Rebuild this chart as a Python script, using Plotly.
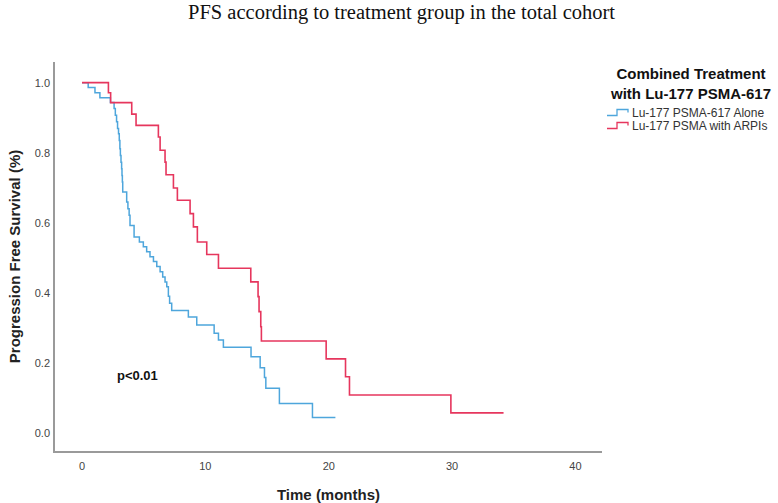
import plotly.graph_objects as go

# ---- data (Kaplan-Meier step curves) ----
blue_name = "Lu-177 PSMA-617 Alone"
blue_time = [0, 0.5, 1.05, 1.45, 2.3, 2.6, 2.7, 2.8, 2.88, 2.96, 3.02, 3.07, 3.11, 3.16, 3.21,
             3.24, 3.27, 3.30, 3.62, 3.72, 3.82, 3.89, 4.22, 4.65, 4.97, 5.24, 5.51, 5.79,
             6.06, 6.33, 6.54, 6.73, 6.87, 7.0, 7.1, 7.27, 8.62, 9.3, 10.71, 11.06, 11.46,
             13.7, 14.44, 14.79, 14.9, 16.0, 18.68, 20.54]
blue_surv = [1.0, 0.986, 0.971, 0.957, 0.943, 0.926, 0.907, 0.888, 0.869, 0.854, 0.835, 0.811,
             0.792, 0.773, 0.754, 0.735, 0.716, 0.688, 0.659, 0.64, 0.621, 0.592, 0.559, 0.545,
             0.531, 0.517, 0.503, 0.489, 0.475, 0.46, 0.445, 0.431, 0.417, 0.39, 0.37, 0.349,
             0.331, 0.308, 0.284, 0.265, 0.244, 0.217, 0.186, 0.158, 0.127, 0.084, 0.044, 0.044]

red_name = "Lu-177 PSMA with ARPIs"
red_time = [0, 2.14, 2.32, 4.03, 4.38, 6.19, 6.33, 6.73, 6.81, 7.41, 7.73, 8.76, 9.03, 9.35,
            10.11, 11.06, 13.68, 14.27, 14.35, 14.49, 14.54, 19.79, 21.36, 21.68, 29.9, 34.17]
red_surv = [1.0, 0.971, 0.943, 0.91, 0.878, 0.845, 0.807, 0.773, 0.737, 0.699, 0.664, 0.626,
            0.588, 0.545, 0.509, 0.470, 0.431, 0.389, 0.346, 0.303, 0.262, 0.211, 0.16, 0.108,
            0.057, 0.057]

x_ticks = [0, 10, 20, 30, 40]
y_ticks = [0.0, 0.2, 0.4, 0.6, 0.8, 1.0]
y_ticktext = ["0.0", "0.2", "0.4", "0.6", "0.8", "1.0"]

title_text = "PFS according to treatment group in the total cohort"
legend_title = "Combined Treatment<br>with Lu-177 PSMA-617"
p_text = "p<0.01"

BLUE = "#4ea6dc"
RED = "#e6365d"

W, H = 778, 503
ML, MR, MT, MB = 55, 176, 62, 52
PW, PH = W - ML - MR, H - MT - MB


def px(x):
    return (x - ML) / PW


def py(y):
    return (H - MB - y) / PH


fig = go.Figure()
fig.add_trace(go.Scatter(x=blue_time, y=blue_surv, mode="lines", line_shape="hv",
                         line=dict(color=BLUE, width=1.5), name=blue_name))
fig.add_trace(go.Scatter(x=red_time, y=red_surv, mode="lines", line_shape="hv",
                         line=dict(color=RED, width=1.6), name=red_name))

font_sans = "Liberation Sans, Arial, sans-serif"

fig.update_layout(
    width=W, height=H,
    margin=dict(l=ML, r=MR, t=MT, b=MB),
    plot_bgcolor="white", paper_bgcolor="white",
    showlegend=False,
    font=dict(family=font_sans, color="#222"),
    xaxis=dict(range=[-2.19, 42.15], tickvals=x_ticks, showline=True, linecolor="#9a9a9a",
               linewidth=1.5, showgrid=False, zeroline=False, ticks="",
               ticklabelstandoff=4, tickfont=dict(size=11, color="#444"),
               title=dict(text="<b>Time (months)</b>", font=dict(size=15, color="#222"),
                          standoff=21),
               automargin=False),
    yaxis=dict(range=[-0.052, 1.059], tickvals=y_ticks, ticktext=y_ticktext, showline=True,
               linecolor="#9a9a9a", linewidth=1.5, showgrid=False, zeroline=False, ticks="",
               ticklabelstandoff=1, tickfont=dict(size=11, color="#444"),
               title=dict(text="<b>Progression Free Survival (%)</b>",
                          font=dict(size=15, color="#222"), standoff=11),
               automargin=False),
)

annotations = [
    dict(text=title_text, xref="paper", yref="paper", x=px(401), y=py(13),
         xanchor="center", yanchor="middle", showarrow=False,
         font=dict(family="Liberation Serif, Times New Roman, serif", size=20.5, color="#111")),
    dict(text="<b>" + legend_title.replace("<br>", "</b><br><b>") + "</b>", xref="paper",
         yref="paper", x=px(690), y=py(83), xanchor="center", yanchor="middle",
         showarrow=False, align="center",
         font=dict(family=font_sans, size=15, color="#111")),
    dict(text=blue_name, xref="paper", yref="paper", x=px(630), y=py(112.5), xanchor="left",
         yanchor="middle", showarrow=False, font=dict(family=font_sans, size=12, color="#333")),
    dict(text=red_name, xref="paper", yref="paper", x=px(630), y=py(125.5), xanchor="left",
         yanchor="middle", showarrow=False, font=dict(family=font_sans, size=12, color="#333")),
    dict(text="<b>" + p_text + "</b>", xref="x", yref="y", x=4.5, y=0.163, xanchor="center",
         yanchor="middle", showarrow=False, font=dict(family=font_sans, size=13, color="#111")),
]
fig.update_layout(annotations=annotations)


def step_glyph(yc, color):
    x0, x1, x2 = px(607), px(617), px(628)
    ylo, yhi = py(yc + 3), py(yc - 3)
    path = f"M {x0},{ylo} L {x1},{ylo} L {x1},{yhi} L {x2},{yhi} L {x2},{py(yc)}"
    return dict(type="path", xref="paper", yref="paper", path=path,
                line=dict(color=color, width=1.3))


fig.update_layout(shapes=[step_glyph(112.5, BLUE), step_glyph(125.5, RED)])

fig.write_html("out.html", config={"displayModeBar": False},
               post_script="document.body.style.margin='0';document.body.style.padding='0';")
